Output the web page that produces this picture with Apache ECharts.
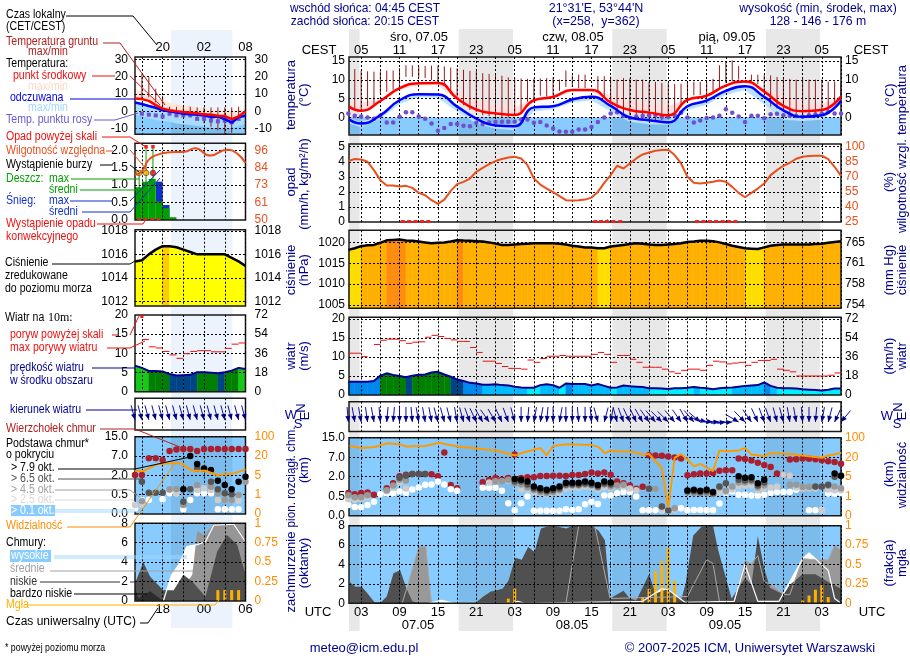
<!DOCTYPE html>
<html>
<head>
<meta charset="utf-8">
<title>Meteogram</title>
<script src="https://cdn.jsdelivr.net/npm/echarts@6/dist/echarts.min.js"></script>
<style>
html, body { margin: 0; padding: 0; background: #fff; }
#chart { width: 910px; height: 660px; }
</style>
</head>
<body>
<div id="chart"></div>
<script>
// ---- main panel data, hourly series are h = 1..78 (UTC hours from 07.05 00) ----
var nightMain = [[1.1, 2.75], [18.25, 26.75], [42.25, 50.75], [66.25, 74.75]];
var nightMini = [[19.2, 28.1]];

var tempHours = [1.1, 3, 6, 9, 12, 15, 18, 21, 24, 27, 30, 33, 36, 39, 42, 45, 48, 51, 54, 57, 60, 63, 66, 69, 72, 75, 78];
var tempMid = [2.9, 1.8, 4.4, 7.8, 9.1, 9.2, 5.1, 2.1, 1.1, 0.7, 4.6, 5.5, 7.3, 7.3, 4, 2, 1.3, 0.6, 4.7, 5.8, 8.5, 9.6, 6.9, 3.1, 1.7, 2, 5.6];
var tempMidHi = [4, 4, 4.8, 8, 9.3, 9.5, 6.5, 4.7, 3.3, 2.7, 5, 5.8, 7.6, 7.6, 6, 4.5, 3.6, 2.9, 5.1, 6.1, 8.8, 9.8, 7.8, 6, 3.8, 3.5, 5.9];
var tempMidLo = [2.5, 1.3, 4, 7.3, 8.5, 8.6, 4.6, 1.6, 0.7, 0.3, 4.2, 5, 6.9, 6.9, 3.6, 1.6, 0.9, 0.3, 4.2, 5.4, 8.1, 9.2, 6.4, 2.6, 1.3, 1.6, 5.2];
var tempFelt = [-0.5, -1.6, 0.6, 4.6, 6.2, 6.1, 2.9, -0.3, -2.1, -2.3, 2.7, 3, 4.8, 5.5, 3.1, 0, -0.7, -1.3, 3, 4.5, 7.1, 8.3, 5.5, 1.9, 0.2, 0.6, 4.5];
var tempFeltHi = [-0.1, -1.2, 1, 5, 6.6, 6.5, 3.3, 0.1, -1.7, -1.8, 3.1, 3.4, 5.2, 5.9, 3.5, 0.4, -0.3, -0.9, 3.4, 4.9, 7.5, 8.7, 5.9, 2.3, 0.6, 1, 4.9];
var tempFeltLo = [-1.5, -2.6, -0.4, 3.6, 5.4, 5.2, 1.6, -1.6, -3, -3.4, 1.6, 2.2, 4, 4.6, 1.6, -1.2, -1.8, -1.9, 2, 3.4, 6, 7.3, 3.5, -0.6, -0.9, -0.6, 3.5];
var dewPoint = [1.1, 0.5, 0.3, 0, -0.3, 0.5, -1.3, -1.3, 0.2, 1.4, 1.4, 0.3, -0.3, -1.6, -3.5, -2.8, -1.7, -1.7, -2.2, -2.3,
    -1.4, -1.7, -1.3, -1.2, -1.1, -1.1, -1.1, -0.5, -0.5, -1.4, -1.2, -2.1, -2.9, -3.7, -3.8, -3.8, -3.2, -3.2, -2.5, -1.2,
    0, 1.1, 1.4, 0.5, -0.1, 0.3, 0.5, 0.6, 0.7, 0.2, 0.2, 0.6, 1.3, 0, -1.3, -0.8, -0.1, 0, 0.5, 2.2,
    1.3, 0.3, -1.2, 0.5, 0.5, -0.2, 0.9, 1, 0.6, 0.5, 0.4, 0.2, 0.6, 0.9, 1.1, 1.5, 1.1, 1.1];
var groundMax = [null, 12.9, 12.5, 12.3, 12.2, 12.3, 12.5, 12.5, 13.1, 13.9, 13.9, 13.6, 13.7, 13.8, 13.7, 13.6, 13.3, 13.1, 12.7, 12.4,
    12.4, 11.8, 11.6, 11.5, 11.1, 10.7, 10.4, 10.4, 10.3, 10.3, 10.4, 10.5, 10.7, 10.1, 12.5, 11.2, 11.4, 11.4, null, 11,
    11, 10.9, 10.1, 10.5, 10.4, 10.1, 10.1, 9.5, 9.5, 9.2, 9.2, 8.9, 9, 9.2, 9.5, 9.5, 9.5, 10.3, 13.9, 15,
    15.2, 13.7, null, 11.4, 11.4, 11.4, 11.2, 10.8, 10.5, 10.3, 10.1, 10.3, 10.1, 10.1, 10.1, 9.6, 9.6, 9.2];
var groundMin = [null, 2.5, 2.2, 3, 3.5, 6.5, 6.8, 7.4, 8.7, 10.8, 10.8, 10.5, 10.5, 10, 9.2, 8.5, 6.3, 5.6, 3.3, 2,
    1.5, 0.6, 0.4, 0.2, 0, 0, 0.6, 1.5, 4.2, 4.9, 5.8, 5.6, 5.6, 7.1, 8.1, 8.1, 7.8, 7.8, null, 6.9,
    5.1, 3.8, 2, 1.1, 0.6, 0.2, -0.3, -0.3, -0.7, -0.7, -0.5, 1.1, 2.9, 5.1, 5.9, 6, 6, 6.9, 7.8, 9.2,
    9.6, 10.1, null, 9.6, 8.9, 7.2, 2.9, 2.4, 1.5, 1.1, 0.2, 0, 0.2, 0.4, 1.1, 2, 3.3, 5.1];

var precipSquareHours = [9.5, 10.5, 11.5, 12.5, 13.5, 39.6, 40.5, 41.4, 42.4, 43.5, 55.5, 56.5, 57.5, 58.5, 59.5, 60.5, 61.5];
var rainHours = [41.5, 42.5, 64.5];
var rainMax = [0.18, 0.06, 0.04];
var humidity = [85.7, 87.7, 87.3, 85, 76.7, 66.7, 61.3, 61.3, 60.3, 61, 59, 54, 51.7, 46.7, 43, 47.3, 56, 62.7, 65, 68.3,
    75, 79, 82.7, 85.7, 87.7, 89.3, 90, 88.3, 81.7, 68.3, 62.3, 58.3, 54.7, 50.7, 46.7, 46.3, 46.7, 47.3, 49.3, 55,
    64, 71.7, 81, 78.3, 83.3, 88.3, 92.3, 94.3, 96, 96.7, 97, 91.7, 83.3, 70, 64, 63.3, 64, 65, 66.3, 65,
    60, 54, 49.7, 54, 58.3, 63.3, 71.7, 76.7, 81, 84, 88, 90, 90.7, 91, 91, 87.7, 80, 71];

var pressure = [1018.2, 1018.6, 1019.1, 1019.3, 1019.4, 1019.9, 1020.5, 1020.6, 1020.7, 1020.44, 1020.4, 1020.2, 1020, 1019.8, 1019.9, 1020, 1020.2, 1020.5, 1020.44, 1020.4,
    1020.3, 1020.2, 1020, 1019.7, 1019.4, 1019.4, 1019.5, 1019.6, 1019.7, 1019.8, 1019.8, 1019.8, 1019.8, 1019.7, 1019.5, 1019.2, 1019, 1018.8, 1018.8, 1018.6,
    1018.6, 1019, 1019.2, 1019.4, 1019.6, 1019.8, 1019.7, 1019.5, 1019.4, 1019.4, 1019.5, 1019.6, 1019.8, 1020.1, 1020.2, 1020.4, 1020.4, 1020.3, 1020, 1019.6,
    1019.2, 1018.9, 1018.6, 1018.5, 1018.4, 1018.8, 1019.2, 1019.4, 1019.5, 1019.5, 1019.5, 1019.5, 1019.5, 1019.6, 1019.7, 1019.9, 1020.1, 1020.3];

var wind = [3.5, 3.5, 3.5, 3.5, 3.7, 5.1, 5.7, 5.3, 5, 4.7, 5.1, 5.3, 5.4, 5.9, 6.1, 5.4, 4.8, 4.1, 3.7, 3.2,
    3, 2.7, 2.7, 2.8, 2.6, 2.5, 2.2, 2, 1.9, 1.9, 2.6, 2.8, 2.6, 1.9, 3, 2.9, 2.9, 2.9, 2.5, 2.9,
    2.4, 1.9, 2, 2.5, 2.3, 2.2, 2.1, 1.8, 1.8, 1.7, 1.6, 1.8, 1.8, 1.9, 2.1, 1.9, 1.8, 1.5, 1.8, 1.9,
    2, 2.2, 2.4, 2.5, 2.6, 3.3, 2.4, 1.9, 1.8, 1.8, 1.7, 1.5, 1.4, 1.3, 1.2, 1.4, 1.7, 1.7];
var gust = [10.7, 11, 11, 10.1, null, 13.3, 14.4, 14.7, 14.7, 14.3, 13.6, 13.9, 14, 15.2, 15.7, 15.4, 14.9, 14.5, 14.1, 14.1,
    12.5, 11.2, 8.9, 8.9, 8.3, 7.5, 7, 7, 6.8, 9.2, 8.6, 9.6, 10.2, 10.2, 10.4, 10.2, 10.2, 10.2, 10.2, 10.7,
    11.2, 10.7, 8.6, 10.4, 10.4, 9.4, 8.6, 7.3, 7.3, 7.3, 6.8, 6.1, 5.7, 6.5, 6.8, 6.8, 6.5, 7.8, 8.9, 8.7,
    8.2, 8.4, 8.6, 7.8, 8.6, 9.1, 9.1, 9.4, 6.8, 6.5, 6.1, 5, 5, 5, 5, 5, 5.2, 5.8];
var windDir = [355, 350, 350, 352, 350, 355, 5, 5, 0, 0, 355, 350, 350, 350, 345, 345, 345, 350, 345, 340,
    335, 330, 325, 330, 335, 340, 345, 0, 5, 10, 10, 5, 0, 10, 0, 0, 355, 0, 355, 345,
    15, 10, 345, 340, 335, 335, 330, 325, 320, 315, 315, 320, 325, 330, 320, 310, 285, 275, 270, 265,
    265, 300, 315, 325, 335, 340, 340, 345, 345, 350, 350, 355, 0, 5, 10, 15, 25, 40];

// cloud heights are kept in axis steps: 0 = 0 km, 1 = 0.5 km, 2 = 2 km, 3 = 7 km, 4 = 15 km
var cloudTickLabels = ['0.0', '0.5', '2.0', '7.0', '15.0'];
var visTickLabels = ['0', '1', '5', '20', '100'];
var cloudTop = [1.16, 1.1, 1.16, 1.19, 1.07, null, 1.41, 1.67, 2.02, 2.1, 2.14, 2.14, 2.14, 2.12, 2.02, 3.24, 1.57, 1.41, null, null,
    null, 1.72, 1.83, 1.93, 1.84, 1.93, 3.14, 1.93, 1.97, 1.97, 2.03, 2.03, 2.05, 2.05, 2.03, 2.09, 2.09, 2.14, 2.22, 2.17,
    2.22, 2.1, 1.76, 1.67, 1.55, 1.38, 1.48, 3.1, 3.09, 3.07, 3.03, 2.98, 2.93, 2.07, 2.12, 2.16, 2.16, 2.19, 2.31, 2.33,
    2.33, 2.93, 2.91, 2.83, 2.71, 2.6, 2.5, 2.17, 2.1, 2.88, 2.9, 2.93, 2.92, 2.9, 2.84, 2.79, 2.76, 2.66];
var base79 = [null, null, null, null, null, null, null, null, null, null, null, null, null, null, null, null, null, null, null, null,
    null, null, null, null, null, null, 1.88, 1.85, 1.76, 1.5, 1.41, 1.33, 1.41, 1.5, 1.69, 1.69, 1.69, 1.76, 1.69, 1.57,
    1.76, 1.7, null, null, null, null, null, null, null, null, null, null, null, 1.29, 1.33, 1.28, 1.33, 1.22, null, null,
    null, 2.02, 1.95, 1.97, 1.67, 1.84, null, null, null, null, null, null, null, null, null, null, 2.16, 2.05];
var base65 = [null, null, null, null, null, null, null, null, 1.95, 2.05, 2.14, 2.14, 2.14, null, null, null, null, null, null, null,
    null, null, null, null, null, null, 1.75, 1.75, 1.6, 1.4, 1.3, 1.25, 1.3, 1.4, 1.6, 1.6, 1.6, 1.65, 1.6, 1.5,
    1.65, 1.6, null, null, null, null, null, 1.38, null, 0.47, 0.28, null, null, 1.25, 1.25, 1.2, 1.25, 1.15, 1.5, 1.67,
    null, 1.85, 1.8, 1.85, 1.55, 1.7, null, null, null, null, null, null, null, 1.5, 1.5, 1.59, 2, 2.05];
var base45 = [1.05, 0.95, 0.95, 1.05, null, null, 1.3, 1.55, 1.85, 1.8, null, null, null, null, null, null, null, null, null, null,
    null, null, null, 1.75, 1.75, 1.85, 1.65, 1.6, 1.45, 1.3, 1.2, 1.15, 1.2, 1.3, 1.55, 1.55, 1.55, 1.6, 1.55, 1.45,
    1.6, 1.5, 1.55, 1.59, null, null, null, 1.38, 1.38, 0.47, 0.25, 0.38, null, 1.2, 1.15, 1.15, 1.15, 1.1, 1.45, 1.28,
    1.5, 1.7, 1.7, 1.75, 1.45, 1.55, null, null, null, 1.59, 1.59, 1.47, 1.47, 1.48, 1.48, 1.53, 1.5, 1.41];
var base25 = [0.85, 0.8, 0.85, 0.95, null, null, 1.25, 1.45, 1.7, 1.4, null, null, null, null, null, null, null, null, null, null,
    null, null, 1.7, 1.75, 1.75, 1.8, null, 1.35, 1.35, 1.2, 1.15, 1.1, 1.15, 1.2, 1.4, 1.45, 1.45, 1.5, 1.45, 1.35,
    1.45, 1.4, 1.5, 1.5, 1.4, 1.3, null, null, null, 0.3, null, 0.3, null, null, null, null, null, null, 1.2, 1.2,
    1.35, 1.5, 1.55, 1.55, 1.3, 1.4, 1.45, 1.5, 2.1, 2.05, 1.45, 1.4, 1.4, 1.4, 0.28, 1.35, 1.3, 1.3];
var base01 = [0.55, 0.45, 0.43, 0.55, 0.72, 1.1, 1.14, 1.14, 1.24, 1.16, 1.34, 1.45, 1.59, 1.6, 1.76, 1.6, 1.36, 1.28, null, null,
    null, 1.43, 1.43, 1.43, 1.28, 0.64, 0.28, 0.64, 0.98, 0.26, 0.26, 0.26, 0.26, 0.26, 0.33, 0.29, 0.33, 0.59, 0.72, 0.6,
    1.03, 1.03, 1.15, 1.21, 1.21, 0.98, 0.28, 0.28, 0.28, 0.28, 0.28, 0.33, 0.38, 0.28, 0.29, 0.29, 0.28, 0.28, 0.62, 1.16,
    1.24, 1.07, 1.07, 1.03, 1.03, 1.07, 1.16, 1.21, 1.21, 1.21, 1.33, 1.41, 0.28, 0.28, 0.28, 1.12, 1.12, 1.16];

var visHours = [1.2, 3.1, 5.1, 7, 9.1, 10.1, 13, 15.1, 18.1, 21.1, 24, 27.1, 28.1, 31, 32, 33, 35.1, 39, 40.1, 41.1, 42, 43, 45.1, 47.1, 48, 49, 50, 51, 52, 53, 54, 55, 56, 58, 59, 60, 62, 63, 64, 66, 67, 70, 75, 76, 78];
var visibility = [3.57, 3.47, 3.52, 3.71, 3.66, 3.55, 3.57, 3.74, 3.55, 3.45, 3.34, 3.09, 3.22, 3.47, 3.1, 3.57, 3.66, 3.62, 3.53, 3.2, 3.36, 3.29, 3.29, 3.14, 3.17, 2.79, 2.45, 0.41, 2.97, 3.17, 2.88, 2.53, 2.66, 2.28, 3.34, 3.31, 3.34, 3.48, 3.14, 3.05, 3.22, 3.17, 2.97, 3.09, 3.22];

var lowHours = [1.2, 2.1, 3.1, 4, 5.1, 6.1, 7, 8.05, 9.1, 10.1, 11, 12.2, 20.8, 22.1, 23.2, 25.1, 26, 27.1, 28.1, 29.1, 30.1, 31.1, 32, 33, 35.1, 36, 39, 40.1, 41.1, 41.9, 44, 45, 46, 48, 49, 51, 53, 53.7, 54.9, 56.2, 58, 58.8, 60.9, 63, 64, 65, 66, 66.9, 69, 70, 72, 74, 76, 78];
var low = [2.2, 1.7, 1.7, 1, 0.1, 0.1, 0.7, 3.1, 3.4, 1.5, 0.2, 0, 0, 0.7, 1.2, 1.5, 2.3, 4.7, 4.5, 5.8, 5.3, 7.7, 7.9, 8, 7.7, 8, 8, 7.5, 6.5, 0.5, 1.3, 0.5, 0.3, 3, 1, 1.5, 0.3, 2, 7, 7.9, 8, 5.5, 0.5, 2.6, 1.9, 6.9, 3.6, 1.6, 0.9, 1.9, 3, 3, 2.2, 1.5];
var midHours = [9.4, 10.1, 12, 13.1, 14, 35, 37, 39.5, 41.9, 54, 57, 58, 59, 61.3, 63, 64, 65, 66, 66.9, 68, 69, 70, 72, 74.2, 76, 77, 78];
var mid = [0, 1.5, 5.8, 5.9, 0, 0, 8, 8, 0.5, 0.7, 4.5, 4.1, 0.2, 0.2, 4.4, 4.1, 4.9, 2.2, 2, 1.5, 0.9, 0.9, 4.6, 4.5, 4.5, 6, 5.5];
var highHours = [13.5, 15.6, 17.5, 26.5, 27.5, 28.5, 47, 50, 51, 53.6, 61.3, 63, 65, 68.3, 72, 73, 76, 77, 78];
var high = [0, 0.3, 0, 0, 0.2, 0, 0.2, 1.5, 1.4, 0.1, 0.2, 4, 0.2, 0.2, 4.6, 5.2, 3.4, 0.5, 0];
var fogHours = [26, 27, 47, 48, 49, 50, 51, 52, 72, 73, 74, 75, 76];
var fog = [0.06, 0.19, 0.08, 0.185, 0.42, 0.545, 0.72, 0.29, 0.035, 0.1, 0.175, 0.235, 0.08];

// ---- left mini panel data, hourly series are h = 14..30 ----
var miniMid = [7.4, 7, 6, 3.5, 1.5, 0.6, 0, -0.4, -0.8, -1.2, -1.8, -2, -2.6, -2.8, -4.6, -3, 0];
var miniMidHi = [13, 11, 9, 7.5, 6, 5, 4.2, 3.5, 3, 2.2, 1.5, 1, 0.7, 0.5, 0.5, 0.5, 0.5];
var miniFelt = [5, 4.2, 3, 2, 0.6, 0, -0.7, -1.4, -1.7, -2, -2.4, -3.4, -3, -4.6, -6.6, -3.4, -2.6];
var miniFeltLo = [-2, -3, -4, -5, -5.5, -6, -7, -7.5, -8, -8.5, -9, -9.5, -10, -10, -9.5, -8.5, -7];
var miniDew = [null, -1.4, -2, -2.4, -3, -1.4, -2.4, -2.4, -2.4, -4.4, -4.4, -5.4, -5.8, -5.4, -6.4, -4.4, null];
var miniGroundMax = [null, 21.6, 19.6, 13, 9, 2.6, 2.6, 2.6, 2.6, 2.2, 2.2, 2.2, 2.2, 2.2, 2.2, 2.6, null];
var miniGroundMin = [null, 7, 8, 5, 1.5, 0, -0.4, -1.4, -3, -5, -7, -9, -11, -13, -12.4, -2.4, null];

var miniRain = [0.94, 1.1, 1.18, 0.53, 0.34, 0.08];
var miniSnow = [0, 0, 0, 1.1, 0.43, 0];
var miniRainBins = [14.5, 15.5, 16.5, 17.5, 18.5, 19.5];
var miniSquareHours = [14.6, 15.5, 16.5, 17.4];
var miniOverHours = [15.6, 16.6];
var miniRainMaxHours = [14.6, 15.6, 16.6];
var miniRainMax = [1.35, 2.1, 2.1];
var miniStormHours = [14.6, 15.6, 16.6];
var miniStorm = [0.3, 0.5, 0.8];
var miniHumHours = [14, 15, 16, 17.2, 19.1, 21.2, 22.7, 24.9, 27.3, 28.8, 30];
var miniHumidity = [79.9, 82, 89.8, 93, 94.7, 95, 97.3, 92.5, 96.4, 93.8, 87.6];

var miniPressure = [1015.4, 1015.5, 1016, 1016.4, 1016.7, 1016.69, 1016.6, 1016.4, 1016.2, 1016, 1016, 1016, 1016, 1016, 1015.7, 1015.4, 1015];
var miniWind = [6.8, 6.2, 5.4, 5.4, 5.3, 4.6, 4.2, 4.3, 4.4, 5.1, 5.1, 4.95, 4.8, 5.1, 5.5, 6.2, 5.9];
var miniGust = [null, 13.6, 11.7, 11.4, 10.5, 9.6, 8.7, 9.9, 10.5, 10.7, 10.7, 10.4, 10.4, 11.3, 12.4, 12.7];
var miniWindDir = [345, 345, 345, 345, 345, 345, 345, 345, 345, 345, 345, 345, 345, 345, 345, 345, 345];

var miniTop = [2.02, 2.02, 2.88, 2.88, 2.79, 3.26, 3.34, 3.36, 3.36, 3.26, 3.36, 3.36, 3.36, 3.36, 3.36, 3.36, 3.36];
var mini79 = [null, null, null, null, null, null, null, 1.28, 3, 2.59, 2.36, 2.28, 1.72, 1.5, 1.28, 1.67, 1.93];
var mini65 = [null, 1.67, 1.1, 1.1, 1.1, null, null, 0.64, 1.28, 2.36, null, 1.67, 1.28, 1.07, 1.02, null, null];
var mini45 = [null, 0.67, null, null, null, 1.28, 1.3, 0.47, null, 1.5, null, 1.41, 1.07, 0.72, 0.72, 0.98, 1.67];
var mini25 = [0.47, 0.47, null, null, null, 1.24, 1.07, null, null, 1.24, 1.33, 1.24, 0.72, 0.72, 0.72, 0.69, null];
var mini01 = [0.29, 0.72, 0.72, null, 0.76, 1.07, 1.07, 0.24, 0.72, 1.07, 1.07, 1.07, 0.24, 0.24, 0.24, 0.24, null];
var miniVisHours = [14, 15.2, 17.2, 19.1, 20.6, 22.3, 24.2, 25.9, 28.3, 30];
var miniVis = [2.24, 2.22, 2.57, 2.62, 2.62, 2.24, 2.24, 2.02, 2.1, 2.31];

var miniVeryLowHours = [14, 14.5, 16.2, 18.1];
var miniVeryLow = [1.3, 0.3, 1, 0];
var miniLowHours = [14, 15.2, 16.2, 18.1, 19.6, 21, 22.3, 24.2, 25.9, 27.3, 28.8, 30];
var miniLow = [1.8, 4, 2.5, 1.1, 1.1, 2.7, 2, 0.45, 5.1, 6.8, 5.8, 2.7];
var miniMidHours = [19.6, 22.3, 23, 24, 25.4, 26.4, 28.3, 30];
var miniMidCl = [0, 2.7, 7.2, 6.8, 7.9, 8, 7.9, 8];
var miniHighHours = [18.1, 19.3, 20.3, 21.5, 23, 24.2, 25.4, 28.3, 30];
var miniHigh = [0, 2.7, 3.7, 5.6, 5.8, 6.1, 7.8, 7.9, 6.1];
var miniFogHours = [26, 27, 28, 29];
var miniFog = [0.14, 0.14, 0.14, 0.14];

// ---- colours ----
var SKY = '#88ccff', SKY_NIGHT = '#7cbcec';
var NAVY = '#000090', ORANGE = '#ff8c00', HUM = '#e8501e';
var FONT = "'Liberation Sans', Arial, sans-serif";
var AXIS_SIZE = 12;

function windColor(v) {
    if (v >= 6.15) return '#18c818';
    if (v >= 4.9) return '#008000';
    if (v >= 4) return '#004488';
    if (v >= 3) return '#0088ee';
    if (v >= 2) return '#00bbff';
    return '#00eeff';
}
function pressColorMain(v) {
    if (v <= 1018.7) return '#ffdd00';
    if (v >= 1020.45) return '#ff8c10';
    return '#ffb000';
}
function pressColorMini(v) {
    return v >= 1016.7 ? '#ffcc00' : '#ffff00';
}
function stormColor(v) {
    if (v >= 0.7) return '#ee1010';
    if (v >= 0.4) return '#ffb000';
    return '#ffee00';
}

var grids = [], xAxes = [], yAxes = [], series = [];

function pairs(xs, ys) {
    var out = [];
    for (var i = 0; i < xs.length; i++) {
        if (ys[i] !== null) out.push([xs[i], ys[i]]);
    }
    return out;
}
function range(from, n) {
    var out = [];
    for (var i = 0; i < n; i++) out.push(from + i);
    return out;
}
var mainHours = range(1, 78);
var miniHours = range(14, 17);

function addPanel(p) {
    var g = grids.length;
    grids.push({ left: p.x0, top: p.y0, width: p.x1 - p.x0, height: p.y1 - p.y0, z: 9, show: !p.hidden, borderColor: '#1a1a1a', borderWidth: 1.5, backgroundColor: 'transparent', containLabel: false });
    var ax = { x: xAxes.length, y: yAxes.length, r: yAxes.length + 1 };
    xAxes.push({
        type: 'value', gridIndex: g, min: p.xMin, max: p.xMax, z: 10, show: !p.hidden,
        position: p.xPos || 'bottom',
        axisLine: { show: false }, axisTick: { show: false, customValues: p.xGrid },
        splitLine: { show: !!p.xGrid, lineStyle: { color: '#000', type: [2, 2], width: 1 } },
        axisLabel: p.xLabels ? {
            customValues: p.xLabels, margin: p.xMargin, color: '#000', fontFamily: FONT, fontSize: AXIS_SIZE + 1,
            showMinLabel: true, showMaxLabel: true, hideOverlap: false,
            formatter: function (v) { var h = (v + (p.xShift || 0)) % 24; return (h < 10 ? '0' : '') + h; }
        } : { show: false }
    });
    yAxes.push({
        type: 'value', gridIndex: g, min: p.yMin, max: p.yMax, z: 10, show: !p.hidden, position: 'left',
        axisLine: { show: false }, axisTick: { show: false, customValues: p.yGrid || [] },
        splitLine: { show: !!p.yGrid, lineStyle: { color: '#000', type: [2, 2], width: 1 } },
        axisLabel: p.yTicks ? {
            customValues: p.yTicks, margin: p.lMargin, color: '#000', fontFamily: FONT, fontSize: AXIS_SIZE, hideOverlap: false,
            formatter: p.yFmt || function (v) { return '' + v; }
        } : { show: false }
    });
    yAxes.push({
        type: 'value', gridIndex: g, min: p.rMin !== undefined ? p.rMin : p.yMin, max: p.rMax !== undefined ? p.rMax : p.yMax,
        z: 10, show: !p.hidden, position: 'right',
        axisLine: { show: false }, axisTick: { show: false }, splitLine: { show: false },
        axisLabel: p.rTicks ? {
            customValues: p.rTicks, margin: p.rMargin, color: p.rColor || '#000', fontFamily: FONT, fontSize: AXIS_SIZE, hideOverlap: false,
            formatter: p.rFmt || function (v) { return '' + v; }
        } : { show: false }
    });
    return ax;
}

// filled rectangles between two x values
function rects(ax, ranges, y0, y1, color, z) {
    series.push({
        type: 'custom', xAxisIndex: ax.x, yAxisIndex: ax.y, z: z, silent: true, data: ranges,
        renderItem: function (params, api) {
            var a = api.coord([api.value(0), y0]);
            var b = api.coord([api.value(1), y1]);
            return { type: 'rect', shape: { x: a[0], y: b[1], width: b[0] - a[0], height: a[1] - b[1] }, style: { fill: color } };
        }
    });
}
// band between two curves
function band(ax, xs, lo, hi, color, z) {
    series.push({
        type: 'custom', xAxisIndex: ax.x, yAxisIndex: ax.y, z: z, silent: true, data: [[xs[0], lo[0]]],
        renderItem: function (params, api) {
            var pts = [], i;
            for (i = 0; i < xs.length; i++) pts.push(api.coord([xs[i], lo[i]]));
            for (i = xs.length - 1; i >= 0; i--) pts.push(api.coord([xs[i], hi[i]]));
            return { type: 'polygon', shape: { points: pts }, style: { fill: color } };
        }
    });
}
// area under an hourly curve, coloured by the value of each step
function colorSteps(ax, xs, ys, base, colorFn, z) {
    var data = [];
    for (var i = 0; i < xs.length - 1; i++) data.push([xs[i], ys[i], xs[i + 1], ys[i + 1]]);
    series.push({
        type: 'custom', xAxisIndex: ax.x, yAxisIndex: ax.y, z: z, silent: true, data: data,
        renderItem: function (params, api) {
            var x0 = api.value(0), v0 = api.value(1), x1 = api.value(2), v1 = api.value(3);
            return {
                type: 'polygon',
                shape: { points: [api.coord([x0, base]), api.coord([x0, v0]), api.coord([x1, v1]), api.coord([x1, base])] },
                style: { fill: colorFn(v0), stroke: colorFn(v0), lineWidth: 0.5 }
            };
        }
    });
}
// line pieces given as x0,y0,x1,y1
function segments(ax, yIdx, data, color, width, z) {
    series.push({
        type: 'custom', xAxisIndex: ax.x, yAxisIndex: yIdx, z: z, silent: true, data: data,
        renderItem: function (params, api) {
            var a = api.coord([api.value(0), api.value(1)]);
            var b = api.coord([api.value(2), api.value(3)]);
            return { type: 'line', shape: { x1: a[0], y1: a[1], x2: b[0], y2: b[1] }, style: { stroke: color, lineWidth: width } };
        }
    });
}
function line(ax, yIdx, data, color, width, z, smooth) {
    series.push({
        type: 'line', xAxisIndex: ax.x, yAxisIndex: yIdx, z: z, silent: true, data: data, showSymbol: false, symbol: 'none',
        smooth: !!smooth, lineStyle: { color: color, width: width }
    });
}
function area(ax, data, color, z) {
    series.push({
        type: 'line', xAxisIndex: ax.x, yAxisIndex: ax.y, z: z, silent: true, data: data, showSymbol: false, symbol: 'none',
        lineStyle: { width: 0 }, areaStyle: { color: color, opacity: 1, origin: 'start' }
    });
}
function dots(ax, yIdx, data, color, size, z, symbol) {
    series.push({
        type: 'scatter', xAxisIndex: ax.x, yAxisIndex: yIdx, z: z, silent: true, data: data,
        symbol: symbol || 'circle', symbolSize: size, itemStyle: { color: color, opacity: 1 }, clip: false
    });
}
function arrows(ax, xs, dirs, z) {
    series.push({
        type: 'custom', xAxisIndex: ax.x, yAxisIndex: ax.y, z: z, silent: true, data: pairs(xs, dirs),
        renderItem: function (params, api) {
            var head = api.coord([api.value(0), 0.32]);
            var a = api.value(1) * Math.PI / 180;
            var ux = Math.sin(a), uy = -Math.cos(a), L = 15;
            var nx = -uy, ny = ux;
            var bx = head[0] + ux * 6, by = head[1] + uy * 6;
            return {
                type: 'group',
                children: [
                    { type: 'line', shape: { x1: head[0], y1: head[1], x2: head[0] + ux * L, y2: head[1] + uy * L }, style: { stroke: '#1010b0', lineWidth: 1 } },
                    { type: 'polygon', shape: { points: [[head[0], head[1]], [bx + nx * 2.5, by + ny * 2.5], [bx - nx * 2.5, by - ny * 2.5]] }, style: { fill: '#000080' } }
                ]
            };
        }
    });
}

// ---- background night bands ----
var bgMain = addPanel({ x0: 349, x1: 841, y0: 29, y1: 631, xMin: 1.1, xMax: 78, yMin: 0, yMax: 1, hidden: true });
rects(bgMain, nightMain, 0, 1, '#e8e8e8', 1);
var bgMini = addPanel({ x0: 135, x1: 245.5, y0: 30, y1: 628, xMin: 14, xMax: 30, yMin: 0, yMax: 1, hidden: true });
rects(bgMini, nightMini, 0, 1, '#ecf3fd', 1);

var MX = { x0: 349, x1: 841, xMin: 1.1, xMax: 78, xGrid: range(1, 26).map(function (i) { return i * 3; }), lMargin: 4, rMargin: 4 };
var NX = { x0: 135, x1: 245.5, xMin: 14, xMax: 30, xGrid: [15, 18, 21, 24, 27, 30], lMargin: 7, rMargin: 9 };
function P(base, extra) { return Object.assign({}, base, extra); }

var mainLabelHours = [3, 9, 15, 21, 27, 33, 39, 45, 51, 57, 63, 69, 75];

// ---- main panels ----
var aT = addPanel(P(MX, { y0: 57, y1: 135, yMin: -4.65, yMax: 16.1, yGrid: [0, 5, 10, 15], yTicks: [0, 5, 10, 15], rTicks: [0, 5, 10, 15], xPos: 'top', xLabels: mainLabelHours, xShift: 2, xMargin: 0 }));
rects(aT, [[1.1, 78]], -4.65, 0, SKY, 2);
rects(aT, nightMain, -4.65, 0, SKY_NIGHT, 2);
band(aT, tempHours, tempMidLo, tempMidHi, '#ffe0e0', 3);
band(aT, tempHours, tempFeltLo, tempFeltHi, '#b8e2ff', 3);
var gb = [];
mainHours.forEach(function (h, i) { if (groundMax[i] !== null) gb.push([h, groundMin[i], h, groundMax[i]]); });
segments(aT, aT.y, gb, '#a01818', 1, 5);
dots(aT, aT.y, pairs(mainHours, dewPoint), '#7050d0', 4.5, 11);
line(aT, aT.y, pairs(tempHours, tempFelt), '#0000ff', 2.5, 12, true);
line(aT, aT.y, pairs(tempHours, tempMid), '#ff0000', 2.5, 12, true);

var aP = addPanel(P(MX, { y0: 144, y1: 222, yMin: 0, yMax: 5.18, yGrid: [1, 2, 3, 4, 5], yTicks: [0, 1, 2, 3, 4, 5], rMin: 25, rMax: 102.7, rTicks: [25, 40, 55, 70, 85, 100], rColor: HUM }));
segments(aP, aP.y, rainHours.map(function (h, i) { return [h, 0, h, rainMax[i]]; }), '#00a000', 1, 6);
dots(aP, aP.y, precipSquareHours.map(function (h) { return [h, 0.03]; }), '#ee2020', [4, 3], 11, 'rect');
line(aP, aP.r, pairs(mainHours, humidity), HUM, 2, 12);

var aC = addPanel(P(MX, { y0: 230.3, y1: 308.3, yMin: 1004.2, yMax: 1022.9, yGrid: [1005, 1010, 1015, 1020], yTicks: [1005, 1010, 1015, 1020], rMin: 753.2, rMax: 767.2, rTicks: [753.8, 757.6, 761.3, 765.06], rFmt: function (v) { return '' + Math.round(v); } }));
colorSteps(aC, mainHours, pressure, 1004.2, pressColorMain, 3);
line(aC, aC.y, pairs(mainHours, pressure), '#000', 2.5, 12);

var aW = addPanel(P(MX, { y0: 317.3, y1: 395, yMin: 0, yMax: 20.45, yGrid: [5, 10, 15, 20], yTicks: [0, 5, 10, 15, 20], rMin: 0, rMax: 73.6, rTicks: [0, 18, 36, 54, 72] }));
colorSteps(aW, mainHours, wind, 0, windColor, 3);
var gs = [];
mainHours.forEach(function (h, i) { if (gust[i] !== null && h > 1) gs.push([h - 1, gust[i], h, gust[i]]); });
segments(aW, aW.y, gs, '#ee1010', 1, 11);
line(aW, aW.y, pairs(mainHours, wind), '#000090', 2, 12);

var aD = addPanel(P(MX, { y0: 401.7, y1: 431.5, yMin: 0, yMax: 1 }));
arrows(aD, mainHours, windDir, 11);

var aH = addPanel(P(MX, { y0: 437.7, y1: 515.7, yMin: 0, yMax: 4, yGrid: [1, 2, 3, 4], yTicks: [0, 1, 2, 3, 4], yFmt: function (v) { return cloudTickLabels[v]; }, rTicks: [0, 1, 2, 3, 4], rColor: ORANGE, rFmt: function (v) { return visTickLabels[v]; } }));
rects(aH, [[1.1, 78]], 0, 4, SKY, 2);
rects(aH, nightMain, 0, 4, SKY_NIGHT, 2);
dots(aH, aH.y, pairs(mainHours, cloudTop), '#a82030', 6.5, 11);
dots(aH, aH.y, pairs(mainHours, base01), '#ffffff', 6.5, 11);
dots(aH, aH.y, pairs(mainHours, base25), '#cccccc', 6.5, 11);
dots(aH, aH.y, pairs(mainHours, base45), '#999999', 6.5, 11);
dots(aH, aH.y, pairs(mainHours, base65), '#555555', 6.5, 11);
dots(aH, aH.y, pairs(mainHours, base79), '#000000', 6.5, 11);
line(aH, aH.r, pairs(visHours, visibility), '#ff9900', 2, 12);

var aO = addPanel(P(MX, { y0: 525.7, y1: 603.3, yMin: 0, yMax: 8, yGrid: [2, 4, 6, 8], yTicks: [0, 2, 4, 6, 8], rMin: 0, rMax: 1, rTicks: [0, 0.25, 0.5, 0.75, 1], rColor: ORANGE, xLabels: mainLabelHours, xMargin: 3 }));
rects(aO, [[1.1, 78]], 0, 8, SKY, 2);
rects(aO, nightMain, 0, 8, SKY_NIGHT, 2);
area(aO, pairs(highHours, high), '#ffffff', 3);
area(aO, pairs(midHours, mid), '#999999', 4);
area(aO, pairs(lowHours, low), '#505050', 5);
segments(aO, aO.r, fogHours.map(function (h, i) { return [h, 0, h, fog[i]]; }), '#ffb000', 3, 6);
line(aO, aO.y, pairs(midHours, mid), '#aaaaaa', 1, 7);
line(aO, aO.y, pairs(highHours, high), '#ffffff', 1.2, 7);

// ---- mini panels ----
var nT = addPanel(P(NX, { y0: 57, y1: 134.3, yMin: -13.3, yMax: 31.3, yGrid: [-10, 0, 10, 20, 30], yTicks: [-10, 0, 10, 20, 30], rTicks: [-10, 0, 10, 20, 30], xPos: 'top', xLabels: [18, 24, 30], xShift: 2, xMargin: 3 }));
rects(nT, [[14, 30]], -13.3, 0, SKY, 2);
rects(nT, nightMini, -13.3, 0, SKY_NIGHT, 2);
band(nT, miniHours, miniMid, miniMidHi, '#ffe4d8', 3);
band(nT, miniHours, miniFeltLo, miniFelt, '#a8dcff', 3);
var ngb = [];
miniHours.forEach(function (h, i) { if (miniGroundMax[i] !== null) ngb.push([h, miniGroundMin[i], h, miniGroundMax[i]]); });
segments(nT, nT.y, ngb, '#a01818', 1, 5);
dots(nT, nT.y, pairs(miniHours, miniDew), '#7050d0', 4, 11, 'rect');
line(nT, nT.y, pairs(miniHours, miniFelt), '#0000ff', 2.5, 12);
line(nT, nT.y, pairs(miniHours, miniMid), '#ff0000', 2.5, 12);

var nP = addPanel(P(NX, { y0: 143.3, y1: 220, yMin: 0, yMax: 2.2, yGrid: [0.5, 1, 1.5, 2], yTicks: [0, 0.5, 1, 1.5, 2], yFmt: function (v) { return v.toFixed(1); }, rMin: 50, rMax: 100.6, rTicks: [50, 61.5, 73, 84.5, 96], rColor: HUM, rFmt: function (v) { return '' + Math.floor(v); } }));
segments(nP, nP.y, miniRainBins.map(function (h, i) { return [h, 0, h, miniSnow[i]]; }), '#1030c8', 6.9, 3);
segments(nP, nP.y, miniRainBins.map(function (h, i) { return [h, 0, h, miniRain[i]]; }), '#00a000', 6.9, 4);
segments(nP, nP.y, miniRainMaxHours.map(function (h, i) { return [h, 0.9, h, miniRainMax[i]]; }), '#00a000', 1, 6);
dots(nP, nP.y, miniSquareHours.map(function (h) { return [h, 0.02]; }), '#ee2020', [4, 2], 11, 'rect');
dots(nP, nP.y, miniOverHours.map(function (h) { return [h, 2.1]; }), '#ee2020', 3.5, 11, 'rect');
series.push({
    type: 'scatter', xAxisIndex: nP.x, yAxisIndex: nP.y, z: 11, silent: true, symbolSize: 5.5, clip: false,
    data: miniStormHours.map(function (h, i) { return { value: [h, 1.35], itemStyle: { color: stormColor(miniStorm[i]), borderColor: '#402000', borderWidth: 0.7 } }; })
});
line(nP, nP.r, pairs(miniHumHours, miniHumidity), HUM, 2, 12, true);

var nC = addPanel(P(NX, { y0: 229.7, y1: 306, yMin: 1011.6, yMax: 1018.1, yGrid: [1012, 1014, 1016, 1018], yTicks: [1012, 1014, 1016, 1018], rTicks: [1012, 1014, 1016, 1018] }));
colorSteps(nC, miniHours, miniPressure, 1011.6, pressColorMini, 3);
line(nC, nC.y, pairs(miniHours, miniPressure), '#000', 2.5, 12);

var nW = addPanel(P(NX, { y0: 315, y1: 391.7, yMin: 0, yMax: 20, yGrid: [5, 10, 15], yTicks: [0, 5, 10, 15, 20], rMin: 0, rMax: 72, rTicks: [0, 18, 36, 54, 72] }));
colorSteps(nW, miniHours, miniWind, 0, windColor, 3);
var ngs = [];
miniHours.forEach(function (h, i) { if (i < miniGust.length && miniGust[i] !== null) ngs.push([h, miniGust[i], h + 1, miniGust[i]]); });
segments(nW, nW.y, ngs, '#ee1010', 1, 11);
dots(nW, nW.y, [[15, 19.6]], '#ee1010', 3, 11, 'rect');
line(nW, nW.y, pairs(miniHours, miniWind), '#000090', 2, 12);

var nD = addPanel(P(NX, { y0: 398.3, y1: 430, yMin: 0, yMax: 1 }));
arrows(nD, miniHours, miniWindDir, 11);

var nH = addPanel(P(NX, { y0: 436.7, y1: 514, yMin: 0, yMax: 4, yGrid: [1, 2, 3, 4], yTicks: [0, 1, 2, 3, 4], yFmt: function (v) { return cloudTickLabels[v]; }, rTicks: [0, 1, 2, 3, 4], rColor: ORANGE, rFmt: function (v) { return visTickLabels[v]; } }));
rects(nH, [[14, 30]], 0, 4, SKY, 2);
rects(nH, nightMini, 0, 4, SKY_NIGHT, 2);
dots(nH, nH.y, pairs(miniHours, miniTop), '#a82030', 6.5, 11);
dots(nH, nH.y, pairs(miniHours, mini01), '#ffffff', 6.5, 11);
dots(nH, nH.y, pairs(miniHours, mini25), '#cccccc', 6.5, 11);
dots(nH, nH.y, pairs(miniHours, mini45), '#999999', 6.5, 11);
dots(nH, nH.y, pairs(miniHours, mini65), '#555555', 6.5, 11);
dots(nH, nH.y, pairs(miniHours, mini79), '#000000', 6.5, 11);
line(nH, nH.r, pairs(miniVisHours, miniVis), '#ff9900', 2, 12);

var nO = addPanel(P(NX, { y0: 523.3, y1: 601, yMin: 0, yMax: 8, yGrid: [2, 4, 6, 8], yTicks: [0, 2, 4, 6, 8], rMin: 0, rMax: 1, rTicks: [0, 0.25, 0.5, 0.75, 1], rColor: ORANGE, xLabels: [18, 24, 30], xMargin: 2 }));
rects(nO, [[14, 30]], 0, 8, SKY, 2);
rects(nO, nightMini, 0, 8, SKY_NIGHT, 2);
area(nO, pairs(miniHighHours, miniHigh), '#ffffff', 3);
area(nO, pairs(miniMidHours, miniMidCl), '#969696', 4);
area(nO, pairs(miniLowHours, miniLow), '#505050', 5);
area(nO, pairs(miniVeryLowHours, miniVeryLow), '#2c2c2c', 6);
segments(nO, nO.r, miniFogHours.map(function (h, i) { return [h, 0, h, miniFog[i]]; }), '#ffb000', 3, 7);
line(nO, nO.y, pairs(miniHighHours, miniHigh), '#ffffff', 1.2, 7);

// ---- texts and leader lines around the panels ----
var g = [];
// the reference font is tall and narrow, so legend text is squeezed a bit
function t(text, x, y, color, opts) {
    opts = opts || {};
    g.push({
        type: 'text', x: x, y: y, z: 30, rotation: opts.rot || 0, silent: true, scaleX: opts.sx || 1,
        style: { text: text, fill: color || '#000', font: (opts.size || 12) + 'px ' + (opts.family || FONT), align: opts.align || 'left', verticalAlign: 'middle' }
    });
}
function l(text, x, y, color) { t(text, x, y, color, { sx: 0.88 }); }
function c(text, x, y, color, size, sx) { t(text, x, y, color, { align: 'center', size: size || 13, sx: sx }); }
function v(text, x, y, color) { t(text, x, y, color || NAVY, { align: 'center', rot: Math.PI / 2, size: 13 }); }
function lead(color, pts) {
    g.push({ type: 'polyline', z: 29, silent: true, shape: { points: pts }, style: { stroke: color, lineWidth: 1, fill: null } });
}
function box(x, y, w, h, color) {
    g.push({ type: 'rect', z: 28, silent: true, shape: { x: x, y: y, width: w, height: h }, style: { fill: color } });
}

// header
c('wschód słońca: 04:45 CEST', 365, 8, NAVY, 13, 0.92);
c('zachód słońca: 20:15 CEST', 365, 21, NAVY, 13, 0.92);
c("21°31'E, 53°44'N", 596, 8, NAVY, 13, 0.96);
c('(x=258,  y=362)', 596, 21, NAVY, 13, 0.96);
c('wysokość (min, środek, max)', 818, 8, NAVY, 13, 0.94);
c('128 - 146 - 176 m', 818, 21, NAVY, 13, 0.94);
c('śro, 07.05', 419, 37, '#000');
c('czw, 08.05', 573, 37, '#000');
c('pią, 09.05', 727, 37, '#000');
c('CEST', 319, 50, '#000', 13);
c('CEST', 871, 50, '#000', 13);
c('UTC', 318, 612, '#000', 13);
c('UTC', 872, 612, '#000', 13);
c('07.05', 418, 625, '#000');
c('08.05', 572, 625, '#000');
c('09.05', 725, 625, '#000');
c('meteo@icm.edu.pl', 364, 648, NAVY);
c('© 2007-2025 ICM, Uniwersytet Warszawski', 750, 648, NAVY);

// side titles
v('temperatura', 291, 95); v('(°C)', 304, 95);
v('opad', 291, 182); v('(mm/h, kg/m²/h)', 304, 184);
v('ciśnienie', 291, 270); v('(hPa)', 304, 270);
v('wiatr', 291, 356); v('(m/s)', 304, 356);
t('pion. rozciągł. chm.', 291, 477, NAVY, { align: 'center', rot: Math.PI / 2, size: 13, sx: 0.9 }); v('(km)', 304, 470);
v('zachmurzenie', 291, 572); v('(oktanty)', 304, 563);
v('(°C)', 890, 95); v('temperatura', 902, 100);
v('(%)', 889, 182); v('wilgotność wzgl.', 902, 186);
v('(mm Hg)', 889, 270); v('ciśnienie', 902, 270);
v('(km/h)', 889, 356); v('wiatr', 902, 356);
v('(km)', 889, 474); v('widzialność', 902, 475);
v('(frakcja)', 889, 563); v('mgła', 902, 563);

// compass roses
t('W', 291, 415, NAVY, { align: 'center', size: 13 });
t('N', 301.6, 408, NAVY, { align: 'center', size: 13, rot: Math.PI / 2 });
t('E', 305.6, 416, NAVY, { align: 'center', size: 13, rot: Math.PI / 2 });
t('S', 298, 424, NAVY, { align: 'center', size: 13 });
t('W', 887, 416, NAVY, { align: 'center', size: 13 });
t('N', 898, 407, NAVY, { align: 'center', size: 13, rot: Math.PI / 2 });
t('E', 902, 416, NAVY, { align: 'center', size: 13, rot: Math.PI / 2 });
t('S', 897, 424, NAVY, { align: 'center', size: 13 });

// left legend
var BR = '#b02020', RED = '#ee1010', BL = '#0000e0', GR = '#00a000', SN = '#1030c8', VI = '#6a5acd', PALE = '#9ed8ff';
l('Czas lokalny', 6, 15); l('(CET/CEST)', 6, 27);
lead('#000', [[66, 16], [133, 16], [157, 45]]);
l('Temperatura gruntu', 6, 42, BR); l('max/min', 28, 52, BR);
lead(BR, [[103, 43], [120, 43], [165, 105]]);
l('Temperatura:', 6, 64);
l('punkt środkowy', 13, 76, RED);
lead(RED, [[92, 76], [115, 76]]); lead(RED, [[130, 76], [160, 105]]);
l('max/min', 28, 87, '#ffd8c8');
l('odczuwana', 10, 98, BL);
lead(BL, [[70, 99], [135, 99]]);
l('max/min', 28, 108, '#a0d8ff');
l('Temp. punktu rosy', 6, 120, VI);
lead(VI, [[94, 120], [115, 120], [138, 113]]);
l('Opad powyżej skali', 6, 137, RED);
lead(RED, [[102, 137], [130, 137], [146, 147]]);
l('Wilgotność względna', 6, 151, HUM);
lead(HUM, [[106, 151], [113, 151]]); lead(HUM, [[130, 150], [147, 170]]);
l('Wystąpienie burzy', 6, 165);
lead('#000', [[100, 165], [113, 165]]); lead('#000', [[130, 165], [139, 172]]);
l('Deszcz:', 6, 179, GR); l('max', 49, 179, GR);
lead(GR, [[71, 179], [139, 179]]);
l('średni', 49, 190, GR);
lead(GR, [[80, 190], [143, 190]]);
l('Śnieg:', 6, 201, SN); l('max', 49, 201, SN);
lead(SN, [[70, 201], [113, 201]]); lead(SN, [[130, 201], [160, 170]]);
l('średni', 49, 212, SN);
lead(SN, [[82, 212], [130, 212], [160, 178]]);
l('Wystąpienie opadu', 6, 224, RED); l('konwekcyjnego', 6, 237, RED);
lead(RED, [[97, 224], [143, 224], [145, 221]]);
l('Ciśnienie', 5, 263); l('zredukowane', 5, 276); l('do poziomu morza', 5, 289);
lead('#000', [[52, 264], [130, 264], [135, 261]]);
l('Wiatr na', 5, 318); t('10m:', 48, 318, '#000', { family: "'Liberation Serif', serif" });
l('poryw powyżej skali', 10, 335, RED);
lead(RED, [[112, 335], [118, 335]]); lead(RED, [[130, 335], [139, 316]]);
l('max porywy wiatru', 10, 348, RED);
lead(RED, [[107, 348], [130, 348], [145, 341]]);
l('prędkość wiatru', 10, 368, NAVY); l('w środku obszaru', 10, 381, NAVY);
lead(NAVY, [[92, 368], [135, 368]]);
l('kierunek wiatru', 10, 410, NAVY);
lead(NAVY, [[86, 410], [137, 410]]);
l('Wierzchołek chmur', 6, 429, BR);
lead(BR, [[100, 429], [135, 429], [185, 449]]);
l('Podstawa chmur*', 6, 444); l('o pokryciu', 6, 455);
l('> 7.9 okt.', 11, 468);
lead('#000', [[58, 469], [135, 469], [190, 457]]);
l('> 6.5 okt.', 11, 479, '#505050');
lead('#505050', [[58, 479], [143, 479]]);
l('> 4.5 okt.', 11, 490, '#a0a0a0');
lead('#a0a0a0', [[55, 490], [130, 490], [143, 500]]);
l('> 2.5 okt.', 11, 500, '#d8d8d8');
lead('#d8d8d8', [[55, 500], [133, 500], [137, 505]]);
box(11, 505, 44, 11, SKY);
l('> 0.1 okt.', 11, 511, '#fff');
lead(PALE, [[55, 510], [135, 510]]); lead(PALE, [[55, 512], [135, 512]]);
l('Widzialność', 6, 526, ORANGE);
lead(ORANGE, [[67, 527], [130, 527], [175, 463]]);
l('Chmury:', 6, 543);
box(10, 550, 41, 12, SKY);
l('wysokie', 11, 556, '#fff');
lead(PALE, [[54, 556], [187, 556]]); lead(PALE, [[54, 558], [187, 558]]);
l('średnie', 10, 569, '#a0a0a0');
lead('#a0a0a0', [[50, 571], [193, 571]]);
l('niskie', 10, 582, '#303030');
lead('#303030', [[40, 582], [120, 582]]); lead('#303030', [[130, 582], [135, 582]]);
l('bardzo niskie', 10, 594);
lead('#000', [[74, 594], [147, 594]]);
l('Mgła', 6, 605, '#ffb000');
lead('#ffb000', [[27, 605], [215, 605], [219, 600]]);
t('Czas uniwersalny (UTC)', 6, 622);
lead('#000', [[140, 623], [148, 623], [158, 608]]);
t('* powyżej poziomu morza', 5, 648, '#000', { size: 10, sx: 0.88 });

var myChart = echarts.init(document.getElementById('chart'), null, { renderer: 'canvas' });
myChart.setOption({
    animation: false,
    backgroundColor: '#fff',
    grid: grids,
    xAxis: xAxes,
    yAxis: yAxes,
    series: series,
    graphic: { elements: g }
});
</script>
</body>
</html>
